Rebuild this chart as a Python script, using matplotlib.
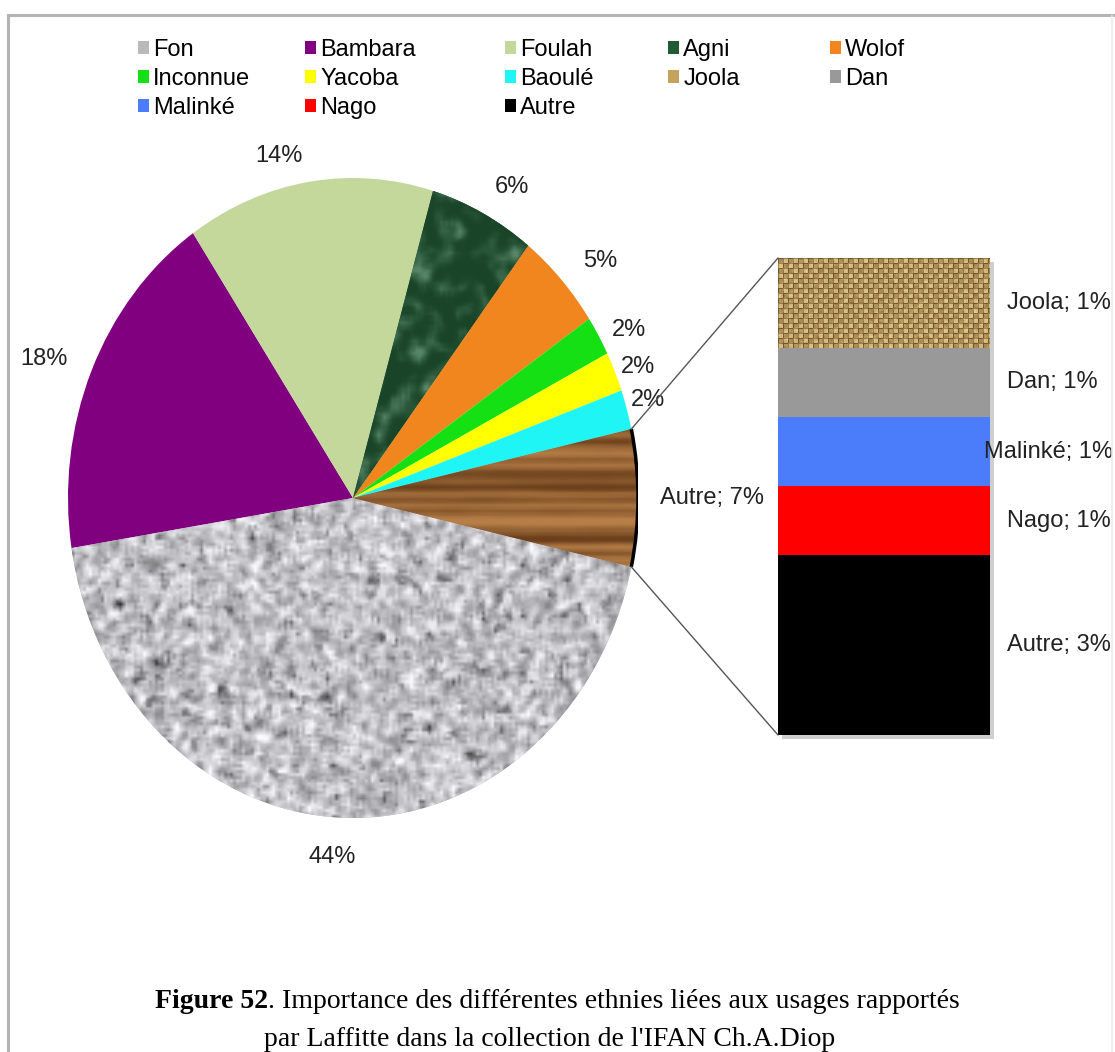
import numpy as np
import matplotlib
matplotlib.use("Agg")
import matplotlib.pyplot as plt
from matplotlib.patches import Patch, Arc, ConnectionPatch, Rectangle
from matplotlib.lines import Line2D
import matplotlib.transforms as mtransforms

# ---------------- data ----------------
pie_labels = ['Fon', 'Bambara', 'Foulah', 'Agni', 'Wolof', 'Inconnue', 'Yacoba', 'Baoulé']
pie_values = [44, 18, 14, 6, 5, 2, 2, 2]
autre_name = 'Autre'
bar_labels = ['Autre', 'Nago', 'Malinké', 'Dan', 'Joola']   # bottom -> top
bar_values = [2.6, 1.0, 1.0, 1.0, 1.3]
legend_columns = [['Fon', 'Inconnue', 'Malinké'],
                  ['Bambara', 'Yacoba', 'Nago'],
                  ['Foulah', 'Baoulé', 'Autre'],
                  ['Agni', 'Joola'],
                  ['Wolof', 'Dan']]
caption_bold = "Figure 52"
caption_rest = ". Importance des différentes ethnies liées aux usages rapportés"
caption_line2 = "par Laffitte dans la collection de l'IFAN Ch.A.Diop"

colors = {'Fon': '#b9b9b9', 'Bambara': '#800080', 'Foulah': '#c4d89c', 'Agni': '#235a36',
          'Wolof': '#f0861d', 'Inconnue': '#14e014', 'Yacoba': '#ffff00', 'Baoulé': '#1ff5f5',
          'Joola': '#c4a35a', 'Dan': '#999999', 'Malinké': '#4b7cfa', 'Nago': '#ff0000',
          'Autre': '#000000', 'AutrePie': '#8a5a2e'}

# ---------------- style ----------------
plt.rcParams['font.family'] = ['Liberation Sans', 'DejaVu Sans']
W, H, DPI = 1115, 1052, 100
FS = 17


def fx(px):
    return px / W


def fy(py):
    return 1 - py / H


# deterministic texture helpers (visual styling only)
def hnoise(h, w, seed):
    y, x = np.mgrid[0:h, 0:w].astype(float)
    v = np.sin(x * 12.9898 + y * 78.233 + seed * 4.1414) * 43758.5453
    return v - np.floor(v)


def blur(a, k=1):
    out = np.zeros_like(a)
    n = 0
    for dy in range(-k, k + 1):
        for dx in range(-k, k + 1):
            out += np.roll(np.roll(a, dy, 0), dx, 1)
            n += 1
    return out / n


def upsample(a, f):
    return np.kron(a, np.ones((f, f)))


fig = plt.figure(figsize=(W / DPI, H / DPI), dpi=DPI)
fig.patch.set_facecolor('white')

# ---------------- pie ----------------
ax = fig.add_axes([fx(68), fy(818), 570 / W, 640 / H])
autre_total = sum(bar_values)
values = pie_values + [autre_total]
total = sum(values)
start = -autre_total / total * 180.0
pie_cols = [colors[n] for n in pie_labels] + [colors['AutrePie']]
wedges, _ = ax.pie(values, startangle=start, counterclock=False, colors=pie_cols,
                   radius=1, center=(0, 0), wedgeprops=dict(linewidth=0))

# granite for Fon
n1 = blur(hnoise(214, 190, 1), 1)
n2 = blur(hnoise(214, 190, 2), 1)
g = 0.78 + 0.9 * (n1 - 0.5)
g = g - 0.30 * np.clip((n2 - 0.58) * 6, 0, 1)
g = np.clip(g, 0, 1)
granite = np.dstack([g * 0.98, g * 0.98, g])
# marble for Agni
m = blur(upsample(hnoise(70, 70, 3), 3), 2)
m2 = blur(hnoise(210, 210, 4), 1)
t = np.clip((m - 0.5) * 2.0 + (m2 - 0.5) * 0.8 + 0.25, 0, 1) ** 1.7
base = np.array([0.10, 0.27, 0.16])
light = np.array([0.34, 0.53, 0.40])
marble = base[None, None, :] * (1 - t[..., None]) + light[None, None, :] * t[..., None]
# wood for Autre
rows = blur(hnoise(320, 1, 5).repeat(40, 1), 1)
rows = blur(rows, 1)
cols = blur(hnoise(320, 40, 6), 2)
tw = np.clip((rows - 0.5) * 2.2 + 0.6 + (cols - 0.5) * 0.6, 0, 1)
wl = np.array([0.72, 0.50, 0.28])
wd = np.array([0.42, 0.25, 0.11])
wood = wd[None, None, :] * (1 - tw[..., None]) + wl[None, None, :] * tw[..., None]

tex = {0: granite, 3: marble, len(values) - 1: wood}
for idx, img in tex.items():
    im = ax.imshow(img, extent=(-1, 1, -1, 1), aspect='auto', interpolation='bilinear',
                   zorder=wedges[idx].get_zorder() + 0.1, origin='upper')
    im.set_clip_path(wedges[idx])

aw = wedges[-1]
ax.add_patch(Arc((0, 0), 2, 2, theta1=aw.theta1, theta2=aw.theta2, color='black', lw=2.5, zorder=5))

ax.set_aspect('auto')
ax.set_xlim(-1, 1)
ax.set_ylim(-1, 1)
ax.axis('off')

# pie labels
label_r = [1.125, 1.17, 1.10, 1.12, 1.14, 1.10, 1.08, 1.08]
label_dang = [-2.0, 1.6, 4.7, -2.8, -2.6, -2.0, -1.0, 0.5]
for w, v, r, da in zip(wedges[:-1], pie_values, label_r, label_dang):
    mid = np.deg2rad((w.theta1 + w.theta2) / 2 + da)
    ax.text(r * np.cos(mid), r * np.sin(mid), f"{round(v / total * 100)}%",
            ha='center', va='center', fontsize=FS, color='#222222', clip_on=False)
mid = np.deg2rad((aw.theta1 + aw.theta2) / 2)
ax.text(1.26 * np.cos(mid), 1.26 * np.sin(mid), f"{autre_name}; {round(autre_total / total * 100)}%",
        ha='center', va='center', fontsize=FS, color='#222222', clip_on=False)

# ---------------- bar ----------------
bax = fig.add_axes([fx(778), fy(735), 212 / W, 477 / H])
bax.set_xlim(0, 1)
bax.set_ylim(0, autre_total)
bax.axis('off')
shadow = Rectangle((0, 0), 1, autre_total, facecolor='#cfcfcf', edgecolor='none', zorder=0,
                   transform=bax.transData + mtransforms.ScaledTranslation(3 / 72, -3 / 72, fig.dpi_scale_trans),
                   clip_on=False)
bax.add_patch(shadow)
bottoms = np.concatenate([[0], np.cumsum(bar_values)[:-1]])
bars = bax.bar([0.5] * len(bar_values), bar_values, width=1, bottom=bottoms,
               color=[colors[n] for n in bar_labels], linewidth=0, zorder=2)

# burlap for Joola
jy, jx = np.mgrid[0:90, 0:212]
cell = 5
weave = (((jx // cell) + (jy // cell)) % 2).astype(float)
gap = ((jx % cell == 0) | (jy % cell == 0)).astype(float)
wn = blur(hnoise(90, 212, 7), 1)
tb = np.clip(0.5 + 0.35 * weave - 0.5 * gap + 0.6 * (wn - 0.5), 0, 1)
bl = np.array([0.90, 0.80, 0.56])
bd = np.array([0.45, 0.33, 0.15])
burlap = bd[None, None, :] * (1 - tb[..., None]) + bl[None, None, :] * tb[..., None]
ji = bar_labels.index('Joola')
imj = bax.imshow(burlap, extent=(0, 1, bottoms[ji], bottoms[ji] + bar_values[ji]), aspect='auto',
                 interpolation='bilinear', zorder=3)
imj.set_clip_path(bars[ji])
bax.set_xlim(0, 1)
bax.set_ylim(0, autre_total)

bar_texts = []
for name, v, b in zip(bar_labels, bar_values, bottoms):
    tt = bax.text(1.08, b + v / 2, f"{name}; {round(v / total * 100)}%", ha='left', va='center',
                  fontsize=FS, color='#222222', clip_on=False)
    bar_texts.append(tt)

# connectors
for ang, yb in [(aw.theta2, autre_total), (aw.theta1, 0)]:
    a = np.deg2rad(ang)
    con = ConnectionPatch(xyA=(np.cos(a), np.sin(a)), coordsA=ax.transData,
                          xyB=(0, yb), coordsB=bax.transData, color='#555555', lw=1.0)
    fig.add_artist(con)

# ---------------- legend ----------------
legend_x = [138, 305, 505, 668, 830]
for names, x in zip(legend_columns, legend_x):
    handles = [Patch(facecolor=colors[n], edgecolor='none') for n in names]
    fig.legend(handles, names, loc='upper left', bbox_to_anchor=(fx(x), fy(39)),
               bbox_transform=fig.transFigure, frameon=False, borderpad=0, borderaxespad=0,
               handlelength=0.45, handleheight=0.45, handletextpad=0.2, labelspacing=0.3,
               fontsize=FS)

# ---------------- caption ----------------
serif = ['Liberation Serif', 'DejaVu Serif']
CFS = 20
t1 = fig.text(0, fy(1008), caption_bold, fontsize=CFS, fontweight='bold', family=serif, va='baseline')
t2 = fig.text(0, fy(1008), caption_rest, fontsize=CFS, family=serif, va='baseline')
t3 = fig.text(fx(550), fy(1046), caption_line2, fontsize=CFS, family=serif, va='baseline', ha='center')

renderer = fig.canvas.get_renderer()
w1 = t1.get_window_extent(renderer).width
w2 = t2.get_window_extent(renderer).width
left = 557 - (w1 + w2) / 2
t1.set_x(fx(left))
t2.set_x(fx(left + w1))

for tt in bar_texts:
    ext = tt.get_window_extent(renderer)
    if ext.x1 > W - 2:
        tt.set_ha('right')
        tt.set_x((W - 2 - 778) / 212)

# ---------------- frame ----------------
fig.add_artist(Line2D([fx(8), fx(1115)], [fy(14.5), fy(14.5)], color='#b4b4b4', lw=2.2))
fig.add_artist(Line2D([fx(8), fx(8)], [fy(14.5), fy(1052)], color='#b4b4b4', lw=2.2))
fig.add_artist(Line2D([fx(1112), fx(1112)], [fy(16), fy(1052)], color='#ececec', lw=1.2))

fig.savefig('out.png', dpi=DPI, facecolor='white')
